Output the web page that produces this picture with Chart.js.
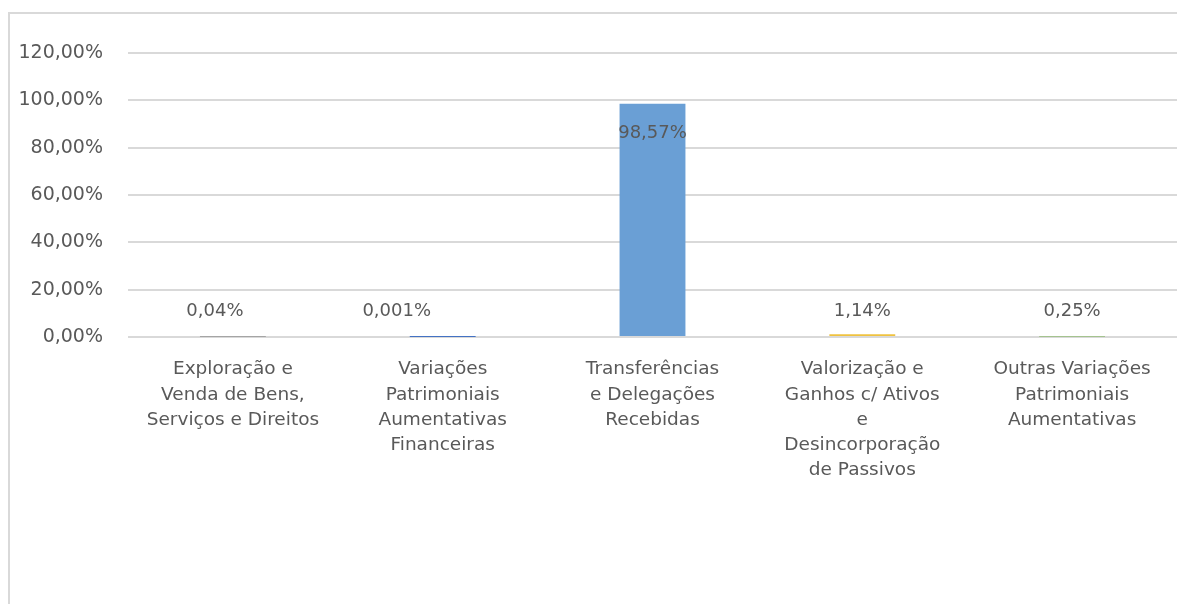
<!DOCTYPE html>
<html>
<head>
<meta charset="utf-8">
<script src="https://cdn.jsdelivr.net/npm/chart.js@4"></script>
<style>
    html, body { margin: 0; padding: 0; background: #fff; overflow: hidden; }
    #frame {
        position: absolute; left: 8px; top: 12px;
        width: 1300px; height: 800px;
        border: 2px solid #d9d9d9; box-sizing: border-box;
    }
    #wrap { position: absolute; left: 0; top: 0; width: 1177px; height: 604px; }
</style>
</head>
<body>
<div id="frame"></div>
<div id="wrap"><canvas id="bar-chart"></canvas></div>
<script>
// ---------------------------------------------------
const categories = [
    [ 'Exploração e', 'Venda de Bens,', 'Serviços e Direitos' ],
    [ 'Variações', 'Patrimoniais', 'Aumentativas', 'Financeiras' ],
    [ 'Transferências', 'e Delegações', 'Recebidas' ],
    [ 'Valorização e', 'Ganhos c/ Ativos', 'e', 'Desincorporação', 'de Passivos' ],
    [ 'Outras Variações', 'Patrimoniais', 'Aumentativas' ]
];
const values = [ 0.04, 0.001, 98.57, 1.14, 0.25 ];
const valueLabels = [ '0,04%', '0,001%', '98,57%', '1,14%', '0,25%' ];
const yTicks = [ 0, 20, 40, 60, 80, 100, 120 ];
const barColors = [ '#a5a5a5', '#4472c4', '#6a9fd5', '#efc23f', '#70ad47' ];
// ---------------------------------------------------
const FONT = '"DejaVu Sans", sans-serif';
const TEXT = '#595959';

// data labels drawn by hand (no datalabels plugin offline)
const valueLabelPlugin = {
    id: 'valueLabels',
    afterDatasetsDraw( chart ) {
        const ctx = chart.ctx;
        const meta = chart.getDatasetMeta( 0 );
        const shift = [ -18, -46, 0, 0, 0 ];
        ctx.save();
        ctx.font = '18px ' + FONT;
        ctx.fillStyle = TEXT;
        ctx.textAlign = 'center';
        ctx.textBaseline = 'middle';
        meta.data.forEach( function ( bar, i ) {
            const tall = bar.base - bar.y > 60;
            const y = tall ? bar.y + 30 : bar.base - 25;
            ctx.fillText( valueLabels[ i ], bar.x + shift[ i ], y );
        });
        ctx.restore();
    }
};

window.addEventListener( 'load', function () {
    const canvas = document.querySelector( '#bar-chart' );
    new Chart( canvas, {
        type: 'bar',
        data: {
            labels: categories,
            datasets: [{
                data: values,
                backgroundColor: barColors,
                borderWidth: 0,
                barPercentage: 0.314,
                categoryPercentage: 1
            }]
        },
        options: {
            responsive: true,
            maintainAspectRatio: false,
            animation: false,
            layout: { padding: { top: 53, right: 0, bottom: 0, left: 0 } },
            plugins: {
                legend: { display: false },
                tooltip: { enabled: false }
            },
            scales: {
                x: {
                    grid: { display: false },
                    border: { display: false },
                    ticks: {
                        color: TEXT,
                        font: { family: FONT, size: 18.5, lineHeight: 1.36 },
                        padding: 12,
                        maxRotation: 0,
                        autoSkip: false
                    },
                    afterFit: function ( scale ) { scale.height = 267; }
                },
                y: {
                    min: 0,
                    max: 120,
                    afterBuildTicks: function ( scale ) {
                        scale.ticks = yTicks.map( function ( v ) { return { value: v }; });
                    },
                    grid: { color: '#d9d9d9', lineWidth: 2, drawTicks: false },
                    border: { display: false },
                    ticks: {
                        color: TEXT,
                        font: { family: FONT, size: 19 },
                        padding: 25,
                        callback: function ( v ) { return v.toFixed( 2 ).replace( '.', ',' ) + '%'; }
                    },
                    afterFit: function ( scale ) { scale.width = 128; }
                }
            }
        },
        plugins: [ valueLabelPlugin ]
    });
}, false );
</script>
</body>
</html>
